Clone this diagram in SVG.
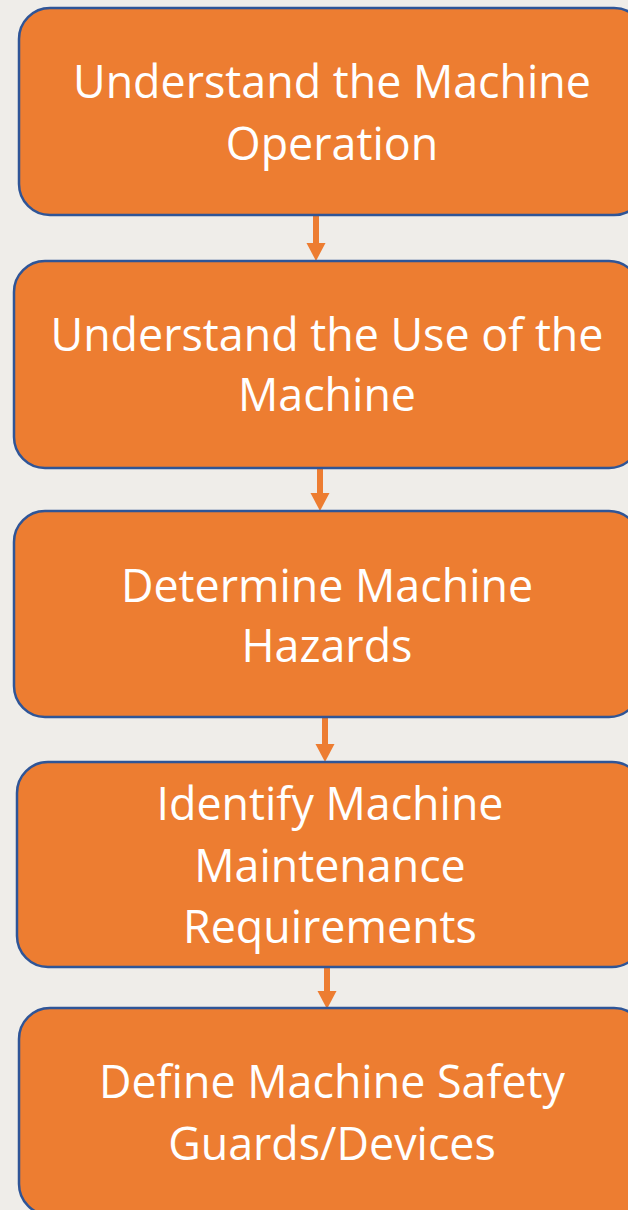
<svg xmlns="http://www.w3.org/2000/svg" width="628" height="1210" viewBox="0 0 628 1210">
<defs>
<style>
.box{fill:#ED7D31;stroke:#2F5597;stroke-width:2.5}
.lbl{fill:#FFFFFF;font-family:"Open Sans","Noto Sans","DejaVu Sans",sans-serif;font-size:44.8px;text-anchor:middle}
.shaft{stroke:#ED7D31;stroke-width:6;fill:none}
.head{fill:#ED7D31}
</style>
</defs>
<rect width="628" height="1210" fill="#EFEDE9"/>
<g id="connectors">
<line class="shaft" x1="316" y1="216" x2="316" y2="244"/><polygon class="head" points="306.5,243 325.5,243 316,261"/>
<line class="shaft" x1="320" y1="469" x2="320" y2="494"/><polygon class="head" points="310.5,493 329.5,493 320,511"/>
<line class="shaft" x1="325" y1="718" x2="325" y2="745"/><polygon class="head" points="315.5,744 334.5,744 325,762"/>
<line class="shaft" x1="327" y1="968" x2="327" y2="992"/><polygon class="head" points="317.5,991 336.5,991 327,1009"/>
</g>
<g id="node1">
<rect class="box" x="19" y="8" width="626" height="207" rx="31"/>
<text class="lbl" x="332" y="98">Understand the Machine</text>
<text class="lbl" x="332" y="160">Operation</text>
</g>
<g id="node2">
<rect class="box" x="14" y="261" width="626" height="207" rx="31"/>
<text class="lbl" x="327" y="351">Understand the Use of the</text>
<text class="lbl" x="327" y="411">Machine</text>
</g>
<g id="node3">
<rect class="box" x="14" y="511" width="626" height="206" rx="31"/>
<text class="lbl" x="327" y="602">Determine Machine</text>
<text class="lbl" x="327" y="662">Hazards</text>
</g>
<g id="node4">
<rect class="box" x="17" y="762" width="626" height="205" rx="31"/>
<text class="lbl" x="330" y="820">Identify Machine</text>
<text class="lbl" x="330" y="882">Maintenance</text>
<text class="lbl" x="330" y="943">Requirements</text>
</g>
<g id="node5">
<rect class="box" x="19" y="1008" width="626" height="207" rx="31"/>
<text class="lbl" x="332" y="1098">Define Machine Safety</text>
<text class="lbl" x="332" y="1160">Guards/Devices</text>
</g>
</svg>
